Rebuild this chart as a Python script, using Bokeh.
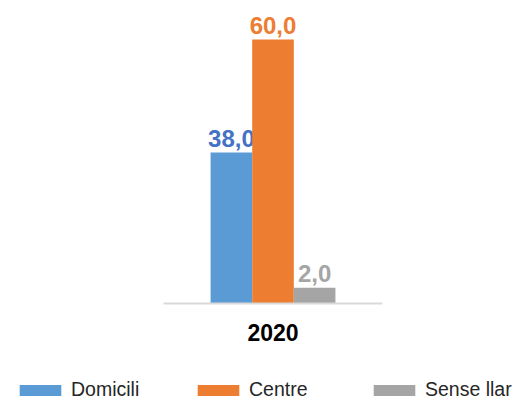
from bokeh.plotting import figure
from bokeh.models import (ColumnDataSource, FactorRange, Range1d, Legend, LegendItem,
                          LinearAxis, FixedTicker)
from bokeh.layouts import column
from bokeh.transform import dodge
from bokeh.core.properties import value
from bokeh.embed import file_html
from bokeh.resources import INLINE

# ---- data ----
years = ["2020"]
series = ["Domicili", "Centre", "Sense llar"]
label_values = [38.0, 60.0, 2.0]          # printed data labels
bar_heights = [34.3, 60.0, 3.6]           # bar heights as drawn in the picture

# ---- styles ----
bar_colors = ["#5B9BD5", "#ED7D31", "#A5A5A5"]
label_colors = ["#4472C4", "#ED7D31", "#A5A5A5"]
offsets = [-0.19, 0.0, 0.19]
bar_w = 0.19
legend_x = [14, 192, 368]   # legend entry positions (layout)

idx = list(range(len(years)))

p = figure(width=514, height=360, x_range=Range1d(-1.2443, 1.1027),
           y_range=Range1d(0, 67.05), output_backend="svg", toolbar_location=None,
           x_axis_location=None, y_axis_location=None,
           min_border_left=0, min_border_right=0, min_border_top=8, min_border_bottom=57)
p.outline_line_color = None
p.grid.visible = False
p.background_fill_color = "white"
p.border_fill_color = "white"

xa = LinearAxis(ticker=FixedTicker(ticks=idx),
                major_label_overrides={i: y for i, y in zip(idx, years)},
                bounds=(idx[0] - 0.5, idx[-1] + 0.5))
xa.axis_line_color = "#D9D9D9"
xa.axis_line_width = 2
xa.major_tick_line_color = None
xa.minor_tick_line_color = None
xa.major_label_text_font = "Liberation Sans"
xa.major_label_text_font_style = "bold"
xa.major_label_text_font_size = "23px"
xa.major_label_text_color = "#000000"
xa.major_label_standoff = 14
p.add_layout(xa, "below")

for i, name in enumerate(series):
    src = ColumnDataSource(dict(x=idx, h=[bar_heights[i]],
                                t=[f"{label_values[i]:.1f}".replace(".", ",")]))
    p.vbar(x=dodge("x", offsets[i]), top="h", width=bar_w,
           source=src, fill_color=bar_colors[i], line_color=None)
    p.text(x=dodge("x", offsets[i]), y="h", text="t", source=src,
           text_align="center", text_baseline="bottom", y_offset=-6,
           text_font=value("Liberation Sans"), text_font_style="bold",
           text_font_size="24px", text_color=label_colors[i])

# legend strip below the chart
q = figure(width=514, height=41, x_range=FactorRange(factors=years), y_range=Range1d(0, 1),
           output_backend="svg", toolbar_location=None,
           min_border_left=0, min_border_right=0, min_border_top=0, min_border_bottom=0)
q.outline_line_color = None
q.grid.visible = False
q.axis.visible = False
q.background_fill_color = "white"
q.border_fill_color = "white"

for i, name in enumerate(series):
    r = q.vbar(x=years, top=[bar_heights[i]], width=bar_w,
               fill_color=bar_colors[i], line_color=None)
    r.visible = False
    lg = Legend(items=[LegendItem(label=name, renderers=[r])], orientation="horizontal",
                location=(legend_x[i], 0),
                glyph_width=52, glyph_height=14, label_standoff=5,
                spacing=0, padding=0, margin=0, border_line_color=None,
                background_fill_alpha=0, label_text_font="Liberation Sans",
                label_text_font_size="19.5px", label_text_color="#262626")
    q.add_layout(lg, "center")

open("out.html", "w").write(file_html(column(p, q, spacing=0), INLINE))
